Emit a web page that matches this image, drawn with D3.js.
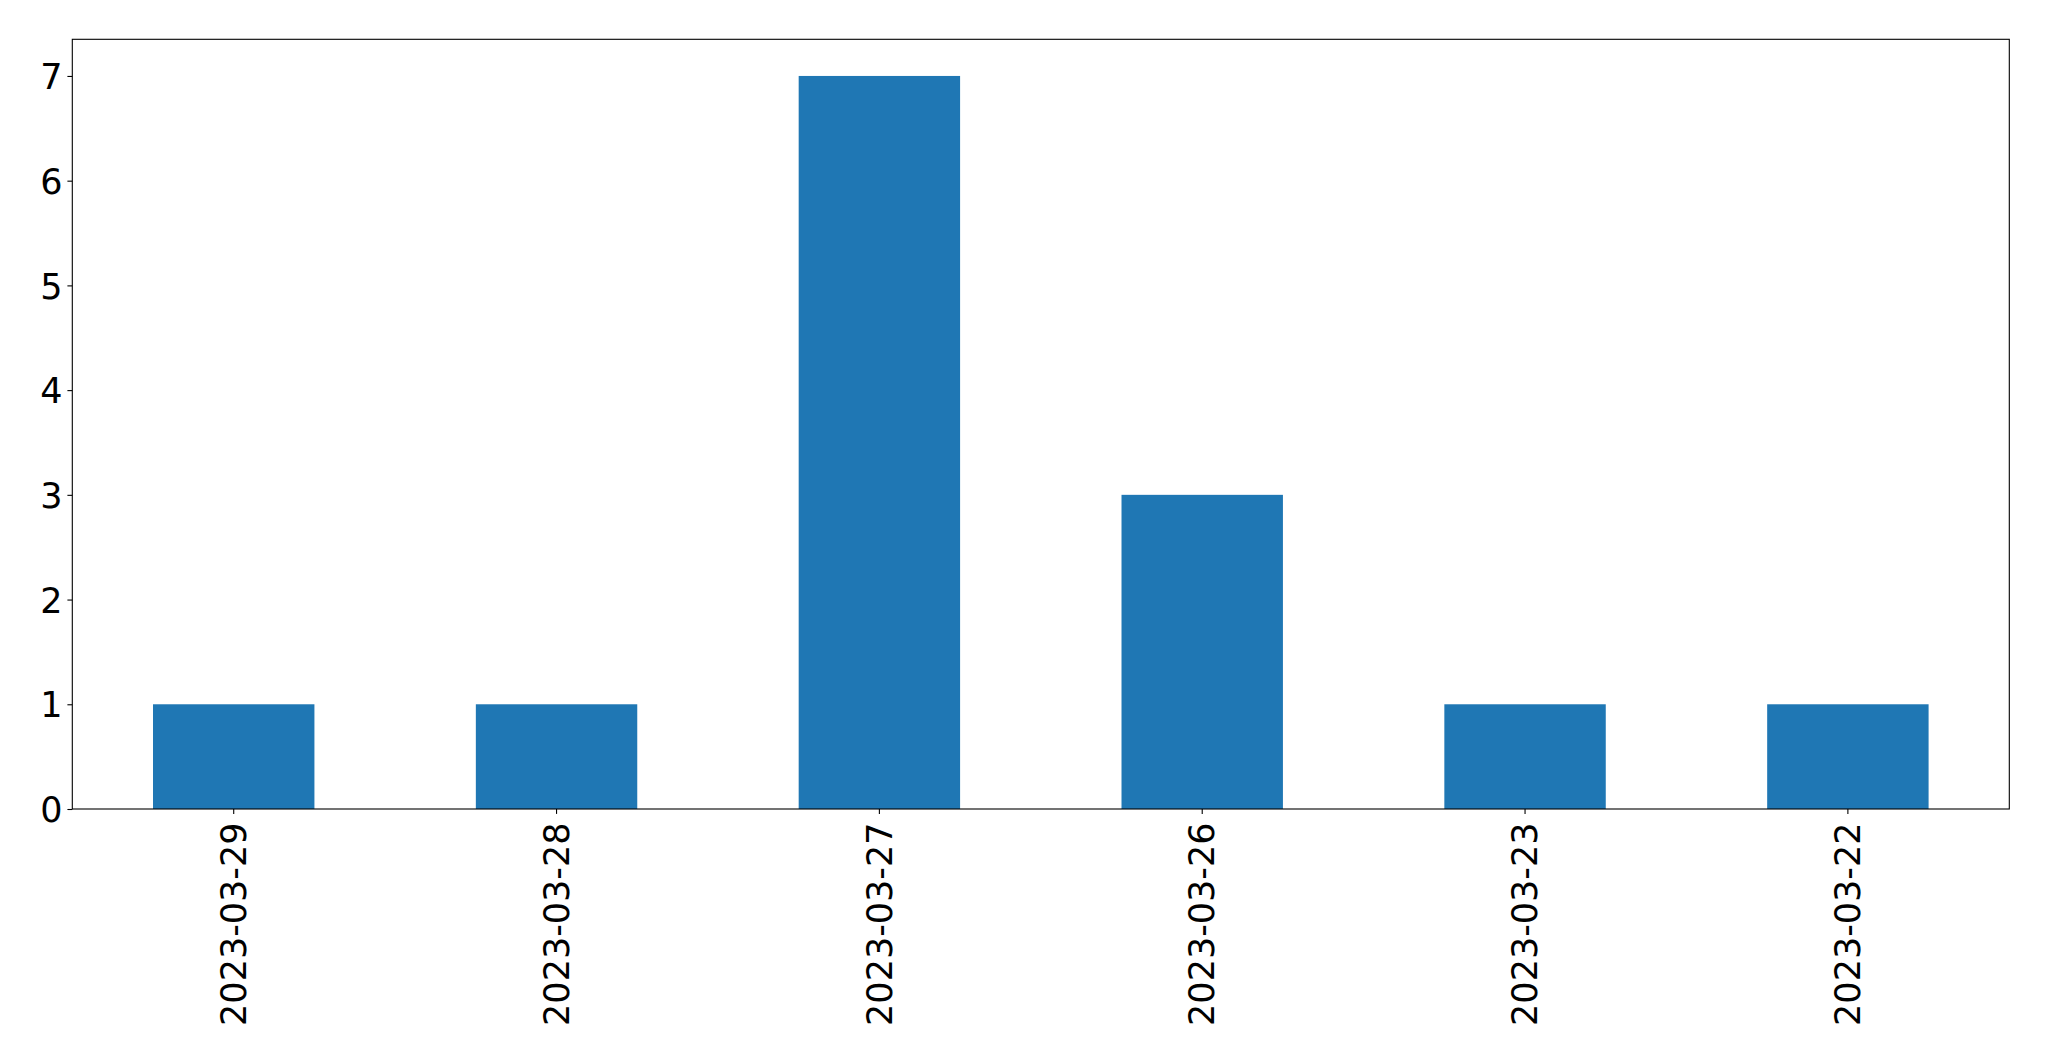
<!DOCTYPE html>
<html>
<head>
<meta charset="utf-8">
<script src="https://cdn.jsdelivr.net/npm/d3@7"></script>
<style>
html,body{margin:0;padding:0;background:#fff;}
svg{display:block;}
</style>
</head>
<body>
<svg id="chart" width="2049" height="1061"></svg>
<script>
const categories = ["2023-03-29","2023-03-28","2023-03-27","2023-03-26","2023-03-23","2023-03-22"];
const values = [1, 1, 7, 3, 1, 1];
const yTicks = [0, 1, 2, 3, 4, 5, 6, 7];

const W = 2049, H = 1061;
const m = {left: 72.3, right: W - 2009.3, top: 39.3, bottom: H - 809};
const svg = d3.select("#chart");
const iw = W - m.left - m.right, ih = H - m.top - m.bottom;
const g = svg.append("g").attr("transform", `translate(${m.left},${m.top})`);

const x = d3.scaleBand().domain(categories).range([0, iw]).paddingInner(0.5).paddingOuter(0.25);
const y = d3.scaleLinear().domain([0, 7.35]).range([ih, 0]);

g.selectAll("rect.bar").data(values).enter().append("rect")
  .attr("class", "bar")
  .attr("x", (d, i) => x(categories[i]))
  .attr("width", x.bandwidth())
  .attr("y", d => y(d))
  .attr("height", d => y(0) - y(d))
  .attr("fill", "#1f77b4");

const font = "'DejaVu Sans', sans-serif";
const fs = 35;

const yAxis = g.append("g").call(d3.axisLeft(y).tickValues(yTicks).tickFormat(d3.format("d")).tickSize(4.9).tickPadding(4.9));
yAxis.select(".domain").remove();
yAxis.selectAll(".tick line").attr("stroke", "#000").attr("stroke-width", 1.1);
yAxis.selectAll(".tick text").attr("font-family", font).attr("font-size", fs).attr("fill", "#000").attr("dy", "0.36em");

const xAxis = g.append("g").attr("transform", `translate(0,${ih})`)
  .call(d3.axisBottom(x).tickSize(4.9).tickPadding(4.9));
xAxis.select(".domain").remove();
xAxis.selectAll(".tick line").attr("stroke", "#000").attr("stroke-width", 1.1);
xAxis.selectAll(".tick text")
  .attr("font-family", font).attr("font-size", fs).attr("fill", "#000")
  .attr("text-anchor", "end")
  .attr("transform", "translate(0,13.5) rotate(-90)")
  .attr("x", 0).attr("y", 0).attr("dy", "0.35em");

g.append("rect").attr("x", 0).attr("y", 0).attr("width", iw).attr("height", ih)
  .attr("fill", "none").attr("stroke", "#000").attr("stroke-width", 1.1);
</script>
</body>
</html>
